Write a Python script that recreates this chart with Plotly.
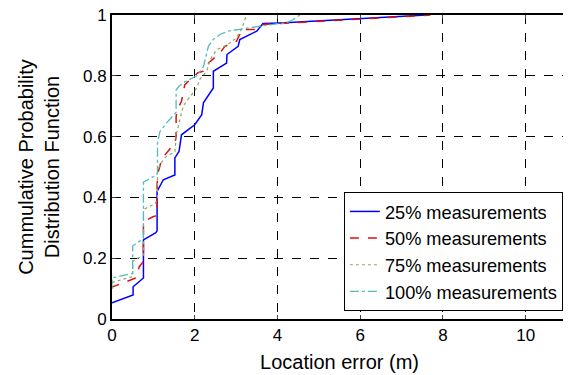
import plotly.graph_objects as go

# Data (location error in m, CDF)
x25 = [0, 0.51, 0.51, 0.76, 0.76, 1.06, 1.09, 1.09, 1.24, 1.52, 1.52, 1.62, 1.68, 2.0, 2.17, 2.21, 2.45, 2.45, 2.77, 2.78, 3.05, 3.09, 3.50, 3.65, 4.06, 7.6]
y25 = [0.053, 0.079, 0.106, 0.135, 0.26, 0.284, 0.29, 0.42, 0.458, 0.474, 0.53, 0.551, 0.606, 0.639, 0.672, 0.711, 0.76, 0.815, 0.842, 0.87, 0.897, 0.919, 0.947, 0.972, 0.974, 1.0]

x50 = [0, 0, 0.56, 0.66, 0.76, 0.76, 1.0, 1.09, 1.09, 1.11, 1.20, 1.28, 1.52, 1.55, 1.55, 1.60, 1.68, 1.76, 2.08, 2.21, 2.29, 2.61, 2.73, 3.01, 3.09, 3.13, 3.50, 3.65, 7.7]
y50 = [0.10, 0.105, 0.134, 0.172, 0.19, 0.32, 0.337, 0.34, 0.44, 0.48, 0.524, 0.54, 0.579, 0.60, 0.667, 0.694, 0.716, 0.771, 0.81, 0.815, 0.837, 0.875, 0.897, 0.914, 0.936, 0.952, 0.952, 0.969, 1.0]

x75 = [0, 0, 0.5, 0.5, 0.76, 0.76, 1.05, 1.1, 1.1, 1.24, 1.32, 1.52, 1.56, 1.72, 1.80, 1.93, 2.05, 2.13, 2.29, 2.37, 2.53, 2.77, 3.01, 3.13, 3.25]
y75 = [0.10, 0.12, 0.14, 0.19, 0.21, 0.36, 0.38, 0.40, 0.49, 0.524, 0.535, 0.55, 0.61, 0.70, 0.716, 0.738, 0.76, 0.79, 0.815, 0.853, 0.886, 0.90, 0.925, 0.952, 1.0]

x100 = [0, 0, 0.5, 0.5, 0.76, 0.76, 1.08, 1.1, 1.1, 1.16, 1.32, 1.55, 1.55, 1.64, 1.76, 2.05, 2.21, 2.29, 2.33, 2.45, 2.61, 2.81, 3.09, 3.57, 4.06, 4.22, 4.38, 4.54]
y100 = [0.10, 0.135, 0.15, 0.24, 0.265, 0.45, 0.474, 0.485, 0.58, 0.617, 0.645, 0.68, 0.754, 0.768, 0.78, 0.80, 0.83, 0.87, 0.897, 0.92, 0.936, 0.947, 0.952, 0.963, 0.972, 0.974, 0.985, 1.0]

names = ["25% measurements", "50% measurements", "75% measurements", "100% measurements"]
xtick_vals = [0, 2, 4, 6, 8, 10]
ytick_vals = [0, 0.2, 0.4, 0.6, 0.8, 1]
ytick_text = ["0", "0.2", "0.4", "0.6", "0.8", "1"]

styles = [
    dict(color="#0000FF", dash="solid", width=1.5),
    dict(color="#DD1111", dash="dash", width=1.5),
    dict(color="#88AA66", dash="dot", width=1.2),
    dict(color="#55BBBB", dash="dashdot", width=1.3),
]

fig = go.Figure()
for xs, ys, nm, st in zip([x25, x50, x75, x100], [y25, y50, y75, y100], names, styles):
    fig.add_trace(go.Scatter(x=xs, y=ys, mode="lines", name=nm, line=st))

font = "Liberation Sans, Arial, sans-serif"
fig.update_layout(
    width=563, height=367,
    margin=dict(l=104, r=4, t=7, b=56),
    paper_bgcolor="white", plot_bgcolor="white",
    font=dict(family=font, size=17, color="black"),
    showlegend=True,
    legend=dict(x=0.991, y=0.026, xanchor="right", yanchor="bottom",
                bgcolor="white", bordercolor="black", borderwidth=1,
                font=dict(size=18.2), tracegroupgap=0),
)
fig.update_xaxes(
    range=[0, 11], tickvals=xtick_vals, ticks="inside", ticklen=4,
    showline=True, linecolor="black", linewidth=2, mirror="ticks",
    showgrid=True, gridcolor="black", griddash="dash", gridwidth=1,
    zeroline=False, ticklabeloverflow="allow", automargin=False,
    title=dict(text="Location error (m)", font=dict(size=20), standoff=11),
    tickfont=dict(size=17),
)
fig.update_yaxes(
    range=[0, 1], tickvals=ytick_vals, ticktext=ytick_text, ticks="inside", ticklen=4,
    showline=True, linecolor="black", linewidth=2, mirror="ticks",
    showgrid=True, gridcolor="black", griddash="dash", gridwidth=1,
    zeroline=False, ticklabeloverflow="allow", automargin=False,
    title=dict(text="Cummulative Probability<br>Distribution Function", font=dict(size=20), standoff=18),
    tickfont=dict(size=17),
)
fig.write_html("out.html")
